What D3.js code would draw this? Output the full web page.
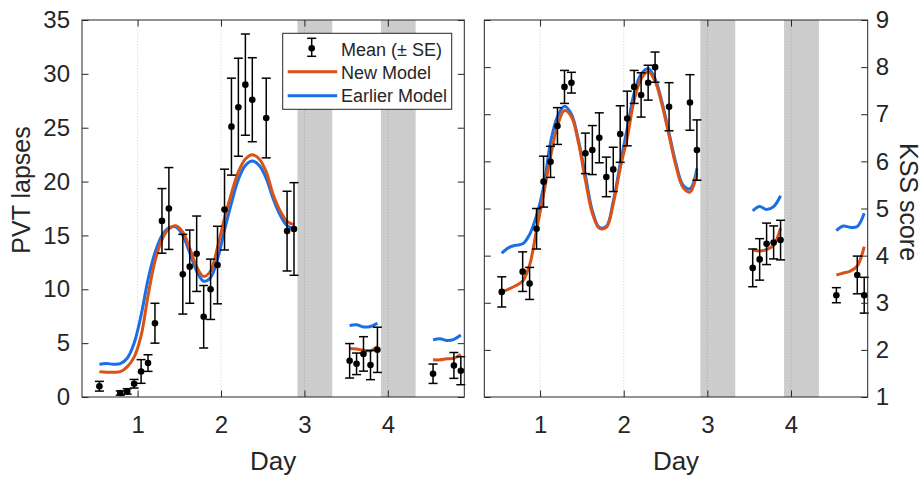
<!DOCTYPE html>
<html>
<head>
<meta charset="utf-8">
<script src="https://cdnjs.cloudflare.com/ajax/libs/d3/7.8.5/d3.min.js"></script>
<style>
  body { margin: 0; background: #fff; }
  svg { display: block; }
  text { font-family: "Liberation Sans", Arial, Helvetica, sans-serif; fill: #262626; }
</style>
</head>
<body>
<svg id="chart" width="924" height="477"></svg>
<script>
// Observation times (day) - shared by both panels
var obsDays = [0.542, 0.792, 0.875, 0.958, 1.042, 1.125, 1.208, 1.292, 1.375, 1.542, 1.625, 1.708,
  1.792, 1.875, 1.958, 2.042, 2.125, 2.208, 2.292, 2.375, 2.542, 2.792, 2.875,
  3.542, 3.625, 3.708, 3.792, 3.875, 4.542, 4.792, 4.875];

// PVT lapses, mean and SE
var pvtMean = [1.0, 0.37, 0.52, 1.23, 2.37, 3.15, 6.85, 16.35, 17.5, 11.4, 12.1, 13.3,
  7.45, 10.0, 12.25, 17.4, 25.1, 26.9, 29.0, 27.6, 25.9, 15.4, 15.6,
  3.36, 3.08, 4.0, 2.96, 4.38, 2.16, 2.93, 2.44];
var pvtSE = [0.45, 0.2, 0.25, 0.4, 1.1, 0.77, 1.85, 3.0, 3.8, 3.7, 3.4, 3.5,
  2.9, 2.8, 3.6, 3.75, 4.5, 4.55, 4.7, 3.9, 3.7, 3.7, 4.3,
  1.6, 1.0, 1.6, 1.35, 2.1, 0.9, 1.2, 1.3];

// KSS score, mean and SE
var kssMean = [3.23, 3.66, 3.41, 4.57, 5.57, 5.99, 6.75, 7.58, 7.67, 6.17, 6.24, 6.5,
  5.67, 5.83, 6.58, 6.91, 7.58, 7.41, 7.67, 8.0, 7.16, 7.25, 6.24,
  3.74, 3.92, 4.25, 4.28, 4.33, 3.16, 3.59, 3.16];
var kssSE = [0.32, 0.42, 0.34, 0.43, 0.54, 0.33, 0.39, 0.35, 0.22, 0.43, 0.52, 0.53,
  0.42, 0.47, 0.6, 0.58, 0.35, 0.47, 0.37, 0.32, 0.51, 0.59, 0.64,
  0.4, 0.44, 0.44, 0.35, 0.42, 0.16, 0.4, 0.38];

// Model prediction times (day), three wake periods
var modelDays = [0.542, 0.625, 0.708, 0.792, 0.875, 0.958, 1.042, 1.125, 1.208, 1.292, 1.375, 1.458,
  1.542, 1.625, 1.708, 1.792, 1.875, 1.958, 2.042, 2.125, 2.208, 2.292, 2.375, 2.458,
  2.542, 2.625, 2.708, 2.792, 2.875,
  3.542, 3.625, 3.708, 3.792, 3.875,
  4.542, 4.625, 4.708, 4.792, 4.875];

var pvtNew = [2.35, 2.3, 2.3, 2.35, 2.8, 3.7, 5.7, 9.4, 12.6, 14.6, 15.6, 15.9,
  15.3, 13.8, 12.1, 11.2, 11.7, 13.9, 16.6, 18.9, 20.9, 22.1, 22.5, 22.1,
  20.9, 18.8, 17.3, 16.3, 16.0,
  4.5, 4.45, 4.35, 4.3, 4.7,
  3.45, 3.45, 3.55, 3.6, 3.95];
var pvtOld = [3.05, 3.1, 3.05, 3.1, 3.6, 5.0, 7.6, 10.9, 13.4, 15.0, 15.7, 15.8,
  15.0, 13.4, 11.7, 10.75, 11.1, 12.8, 15.5, 18.0, 20.2, 21.5, 21.9, 21.5,
  20.3, 18.4, 16.9, 15.9, 15.6,
  6.63, 6.7, 6.5, 6.55, 6.85,
  5.3, 5.4, 5.25, 5.35, 5.75];

var kssNew = [3.23, 3.29, 3.36, 3.46, 3.8, 4.55, 5.3, 6.1, 6.75, 7.08, 6.95, 6.4,
  5.6, 4.9, 4.58, 4.6, 5.1, 5.85, 6.5, 7.3, 7.75, 7.9, 7.7, 7.2,
  6.55, 5.9, 5.45, 5.35, 5.75,
  4.12, 4.1, 4.13, 4.22, 4.58,
  3.59, 3.63, 3.67, 3.78, 4.19];
var kssOld = [4.05, 4.17, 4.22, 4.25, 4.45, 4.85, 5.45, 6.4, 6.95, 7.17, 7.0, 6.45,
  5.7, 4.95, 4.6, 4.62, 5.15, 5.95, 6.7, 7.45, 7.85, 7.97, 7.75, 7.25,
  6.6, 5.95, 5.5, 5.42, 5.85,
  4.95, 5.04, 4.98, 5.04, 5.27,
  4.53, 4.63, 4.6, 4.62, 4.9];

// Sleep periods (grey) and axis ticks
var sleepBands = [[2.9167, 3.3333], [3.9167, 4.3333]];
var dayTicks = [1, 2, 3, 4];
var pvtTicks = [0, 5, 10, 15, 20, 25, 30, 35];
var kssTicks = [1, 2, 3, 4, 5, 6, 7, 8, 9];
var dayRange = [0.3333, 4.9167];

var colNew = "#d95319";
var colOld = "#1a6ee6";
var plotTop = 20, plotBottom = 397;
var tickLen = 6.5;

var svg = d3.select("#chart");

// split model points into wake segments (gap > 0.2 day)
function segments(vals) {
  var segs = [], cur = [];
  modelDays.forEach(function(d, i) {
    if (i > 0 && d - modelDays[i - 1] > 0.2) { segs.push(cur); cur = []; }
    cur.push([d, vals[i]]);
  });
  segs.push(cur);
  return segs;
}

function drawPanel(opts) {
  var x = d3.scaleLinear().domain(dayRange).range([opts.left, opts.right]);
  var y = d3.scaleLinear().domain(opts.yDomain).range([plotBottom, plotTop]);
  var g = svg.append("g");

  g.selectAll("rect.band")
    .data(sleepBands)
    .enter()
    .append("rect")
    .attr("class", "band")
    .attr("x", function(d) { return x(d[0]); })
    .attr("width", function(d) { return x(d[1]) - x(d[0]); })
    .attr("y", plotTop)
    .attr("height", plotBottom - plotTop)
    .attr("fill", "#cccccc");

  g.selectAll("line.grid")
    .data(dayTicks)
    .enter()
    .append("line")
    .attr("class", "grid")
    .attr("x1", function(d) { return x(d); })
    .attr("x2", function(d) { return x(d); })
    .attr("y1", plotTop)
    .attr("y2", plotBottom)
    .attr("stroke", "#262626")
    .attr("stroke-opacity", 0.15)
    .attr("stroke-dasharray", "1.5,1.5");

  var line = d3.line()
    .x(function(d) { return x(d[0]); })
    .y(function(d) { return y(d[1]); })
    .curve(d3.curveCatmullRom.alpha(0.5));

  [[opts.oldModel, colOld], [opts.newModel, colNew]].forEach(function(m) {
    g.append("g")
      .selectAll("path")
      .data(segments(m[0]))
      .enter()
      .append("path")
      .attr("d", line)
      .attr("fill", "none")
      .attr("stroke", m[1])
      .attr("stroke-width", 3)
      .attr("stroke-linejoin", "round");
  });

  // error bars
  var eb = g.append("g")
    .selectAll("g")
    .data(obsDays.map(function(d, i) { return { d: d, m: opts.mean[i], se: opts.se[i] }; }))
    .enter()
    .append("g")
    .attr("stroke", "#000")
    .attr("stroke-width", 1.5);
  eb.append("line")
    .attr("x1", function(d) { return x(d.d); })
    .attr("x2", function(d) { return x(d.d); })
    .attr("y1", function(d) { return y(d.m - d.se); })
    .attr("y2", function(d) { return y(d.m + d.se); });
  [-1, 1].forEach(function(s) {
    eb.append("line")
      .attr("x1", function(d) { return x(d.d) - 4.5; })
      .attr("x2", function(d) { return x(d.d) + 4.5; })
      .attr("y1", function(d) { return y(d.m + s * d.se); })
      .attr("y2", function(d) { return y(d.m + s * d.se); });
  });
  eb.append("circle")
    .attr("cx", function(d) { return x(d.d); })
    .attr("cy", function(d) { return y(d.m); })
    .attr("r", 3.3)
    .attr("fill", "#000")
    .attr("stroke", "none");

  // axes (ticks inside, mirrored on opposite sides)
  g.append("g")
    .attr("transform", "translate(0," + plotBottom + ")")
    .call(d3.axisBottom(x).tickValues(dayTicks).tickSize(-tickLen).tickPadding(19).tickFormat(d3.format("d")));
  g.append("g")
    .attr("transform", "translate(0," + plotTop + ")")
    .call(d3.axisTop(x).tickValues(dayTicks).tickSize(-tickLen).tickFormat(""));
  g.append("g")
    .attr("transform", "translate(" + opts.left + ",0)")
    .call(d3.axisLeft(y).tickValues(opts.yTicks).tickSize(-tickLen).tickPadding(12)
      .tickFormat(opts.labelsRight ? "" : d3.format("d")));
  g.append("g")
    .attr("transform", "translate(" + opts.right + ",0)")
    .call(d3.axisRight(y).tickValues(opts.yTicks).tickSize(-tickLen).tickPadding(8)
      .tickFormat(opts.labelsRight ? d3.format("d") : ""));

  g.selectAll(".domain").remove();
  g.selectAll(".tick line").attr("stroke", "#262626");
  g.selectAll(".tick text").attr("font-size", 24).attr("font-family", null).attr("fill", "#262626");

  g.append("rect")
    .attr("x", opts.left)
    .attr("y", plotTop)
    .attr("width", opts.right - opts.left)
    .attr("height", plotBottom - plotTop)
    .attr("fill", "none")
    .attr("stroke", "#262626")
    .attr("stroke-width", 1);

  g.append("text")
    .attr("x", (opts.left + opts.right) / 2)
    .attr("y", 470)
    .attr("text-anchor", "middle")
    .attr("font-size", 26)
    .text("Day");

  return { x: x, y: y, g: g };
}

drawPanel({
  left: 82, right: 464.3, yDomain: [0, 35], yTicks: pvtTicks,
  mean: pvtMean, se: pvtSE, newModel: pvtNew, oldModel: pvtOld, labelsRight: false
});
drawPanel({
  left: 484.3, right: 867.7, yDomain: [1, 9], yTicks: kssTicks,
  mean: kssMean, se: kssSE, newModel: kssNew, oldModel: kssOld, labelsRight: true
});

svg.append("text")
  .attr("transform", "translate(30,190) rotate(-90)")
  .attr("text-anchor", "middle")
  .attr("font-size", 25)
  .text("PVT lapses");
svg.append("text")
  .attr("transform", "translate(900,202) rotate(90)")
  .attr("text-anchor", "middle")
  .attr("font-size", 25)
  .text("KSS score");

// legend
var lg = svg.append("g").attr("transform", "translate(282.7,33.3)");
lg.append("rect")
  .attr("width", 169)
  .attr("height", 76)
  .attr("fill", "#fff")
  .attr("stroke", "#262626")
  .attr("stroke-width", 1);
var sym = lg.append("g").attr("stroke", "#000").attr("stroke-width", 1.5);
sym.append("line").attr("x1", 29).attr("x2", 29).attr("y1", 5).attr("y2", 23);
sym.append("line").attr("x1", 24.5).attr("x2", 33.5).attr("y1", 5).attr("y2", 5);
sym.append("line").attr("x1", 24.5).attr("x2", 33.5).attr("y1", 23).attr("y2", 23);
lg.append("circle").attr("cx", 29).attr("cy", 15).attr("r", 3.3).attr("fill", "#000");
lg.append("line").attr("x1", 5).attr("x2", 54.5).attr("y1", 38.4).attr("y2", 38.4)
  .attr("stroke", colNew).attr("stroke-width", 3);
lg.append("line").attr("x1", 5).attr("x2", 54.5).attr("y1", 62.4).attr("y2", 62.4)
  .attr("stroke", colOld).attr("stroke-width", 3);
[["Mean (\u00B1 SE)", 22.7], ["New Model", 46], ["Earlier Model", 68.4]].forEach(function(t) {
  lg.append("text")
    .attr("x", 58.3)
    .attr("y", t[1])
    .attr("font-size", 18)
    .text(t[0]);
});
</script>
</body>
</html>
